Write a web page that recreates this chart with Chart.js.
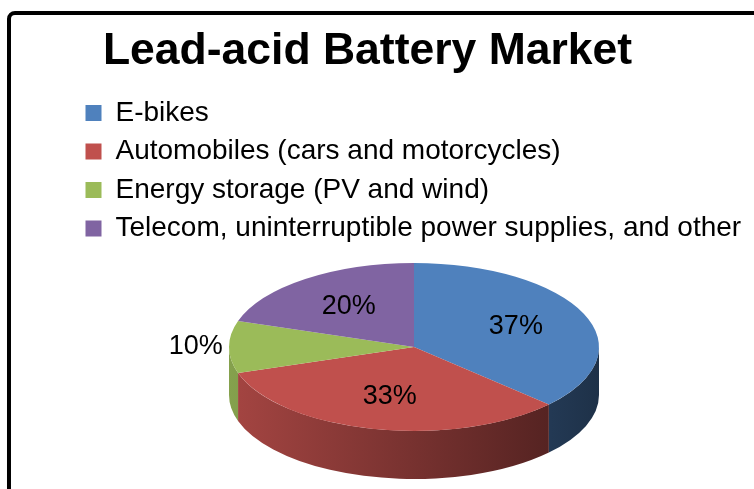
<!DOCTYPE html>
<html>
<head>
<meta charset="utf-8">
<script src="https://cdn.jsdelivr.net/npm/chart.js@4.4.1/dist/chart.umd.min.js"></script>
<style>
  body { margin: 0; background: #fff; }
  canvas { display: block; }
</style>
</head>
<body>
<canvas id="myChart" width="754" height="489"></canvas>
<script>
  let labels = [
    'E-bikes',
    'Automobiles (cars and motorcycles)',
    'Energy storage (PV and wind)',
    'Telecom, uninterruptible power supplies, and other'
  ];
  let shares = [37, 33, 10, 20];
  let colors = ['#4F81BD', '#C0504D', '#9BBB59', '#8064A2'];

  // where the flattened pie top sits on the page
  let pieCx = 414;
  let pieCy = 347;
  let pieRy = 84;
  let pieDepth = 48;
  let fontName = '"Liberation Sans", Arial, Helvetica, sans-serif';

  function shade(hex, f) {
    let n = parseInt(hex.slice(1), 16);
    let r = Math.round(((n >> 16) & 255) * f);
    let g = Math.round(((n >> 8) & 255) * f);
    let b = Math.round((n & 255) * f);
    return 'rgb(' + r + ',' + g + ',' + b + ')';
  }

  let pie3d = {
    id: 'pie3d',
    beforeDraw: function(chart) {
      // black frame round the slide
      let ctx = chart.ctx;
      ctx.save();
      ctx.lineWidth = 4;
      ctx.strokeStyle = '#000';
      ctx.beginPath();
      ctx.roundRect(9, 13, 800, 600, 6);
      ctx.stroke();
      ctx.restore();
    },
    beforeDatasetsDraw: function(chart) {
      let ctx = chart.ctx;
      let arcs = chart.getDatasetMeta(0).data;
      let r = arcs[0].outerRadius;
      ctx.save();
      // side walls (front half only)
      arcs.forEach(function(arc, i) {
        let grad = ctx.createLinearGradient(pieCx - r, 0, pieCx + r, 0);
        grad.addColorStop(0, shade(colors[i], 0.86));
        grad.addColorStop(1, shade(colors[i], 0.38));
        for (let off = -2 * Math.PI; off <= 2 * Math.PI; off += 2 * Math.PI) {
          let a0 = Math.max(arc.startAngle, off);
          let a1 = Math.min(arc.endAngle, off + Math.PI);
          if (a1 <= a0) continue;
          ctx.beginPath();
          ctx.ellipse(pieCx, pieCy, r, pieRy, 0, a0, a1);
          ctx.ellipse(pieCx, pieCy + pieDepth, r, pieRy, 0, a1, a0, true);
          ctx.closePath();
          ctx.fillStyle = grad;
          ctx.fill();
        }
      });
      // squash the top face into an ellipse
      ctx.translate(pieCx, pieCy);
      ctx.scale(1, pieRy / r);
      ctx.translate(-arcs[0].x, -arcs[0].y);
    },
    afterDatasetsDraw: function(chart) {
      let ctx = chart.ctx;
      ctx.restore();
      let arcs = chart.getDatasetMeta(0).data;
      let total = shares.reduce(function(a, b) { return a + b; }, 0);
      ctx.save();
      ctx.font = '27px ' + fontName;
      ctx.fillStyle = '#000';
      ctx.textAlign = 'center';
      ctx.textBaseline = 'middle';
      arcs.forEach(function(arc, i) {
        let mid = (arc.startAngle + arc.endAngle) / 2;
        let frac = shares[i] / total;
        let f = frac < 0.12 ? 1.18 : 0.6;
        let x = pieCx + Math.cos(mid) * arc.outerRadius * f;
        let y = pieCy + Math.sin(mid) * pieRy * f;
        ctx.fillText(Math.round(frac * 100) + '%', x, y);
      });
      ctx.restore();
    }
  };

  let graphTarget = document.getElementById('myChart');
  let pieChart = new Chart(graphTarget, {
    type: 'pie',
    data: {
      labels: labels,
      datasets: [{
        data: shares,
        backgroundColor: colors,
        borderWidth: 0,
        radius: 185,
        clip: false
      }]
    },
    options: {
      responsive: false,
      animation: false,
      events: [],
      cutout: '0%',
      layout: {
        padding: { left: 75, right: 94, top: 0, bottom: 0 }
      },
      plugins: {
        title: {
          display: true,
          text: 'Lead-acid Battery Market',
          color: '#000',
          font: { family: fontName, size: 44.5, weight: 'bold' },
          padding: { top: 25, bottom: 10.1 }
        },
        legend: {
          position: 'left',
          align: 'start',
          fullSize: false,
          maxWidth: 720,
          labels: {
            color: '#000',
            boxWidth: 16,
            boxHeight: 16,
            padding: 10.5,
            font: { family: fontName, size: 28 }
          }
        },
        tooltip: { enabled: false }
      }
    },
    plugins: [pie3d]
  });
</script>
</body>
</html>
